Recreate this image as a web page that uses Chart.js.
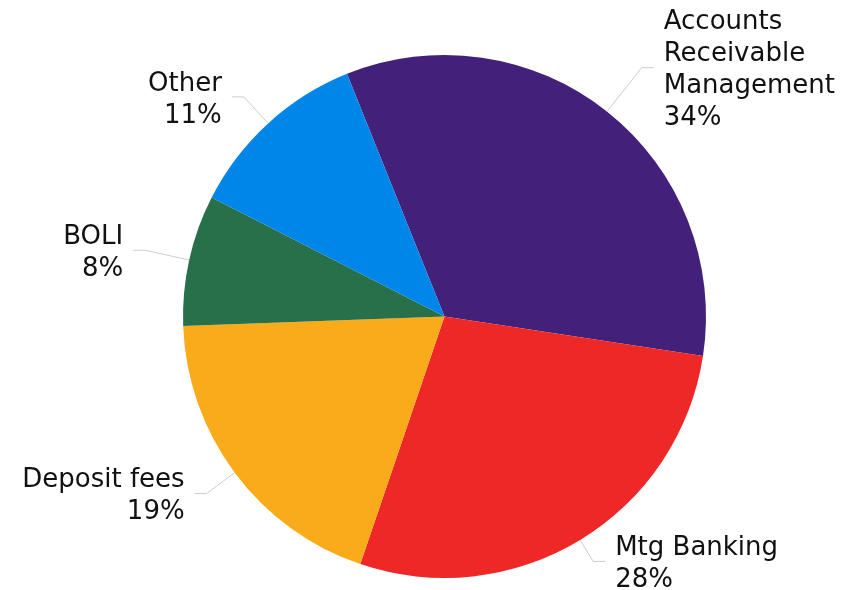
<!DOCTYPE html>
<html>
<head>
<meta charset="utf-8">
<script src="https://cdn.jsdelivr.net/npm/chart.js@4/dist/chart.umd.min.js"></script>
<style>
    html, body { margin: 0; padding: 0; background: #fff; }
    #wrap { width: 858px; height: 590px; position: relative; }
</style>
</head>
<body>
<div id="wrap"><canvas id="feePie"></canvas></div>
<script>
// Fee income mix (share of total, %)
const categories = [
    ["Accounts", "Receivable", "Management"],
    "Mtg Banking",
    "Deposit fees",
    "BOLI",
    "Other",
];
const shares = [33.5, 27.8, 19.2, 8.1, 11.4];
const sliceColors = ["#43207a", "#ee2826", "#f9ab1a", "#277049", "#0086e8"];

// outside labels with elbow leader lines
const leaderLabels = {
    id: "leaderLabels",
    afterDatasetsDraw(chart, args, opts) {
        const ctx = chart.ctx;
        const meta = chart.getDatasetMeta(0);
        const values = chart.data.datasets[0].data;

        ctx.save();
        ctx.font = opts.font;
        ctx.textBaseline = "middle";

        meta.data.forEach((arc, i) => {
            const mid = (arc.startAngle + arc.endAngle) / 2;
            const r = arc.outerRadius;
            const ext = opts.extend[i];
            const cos = Math.cos(mid);
            const sin = Math.sin(mid);
            const right = cos >= 0;

            const x0 = arc.x + cos * r;
            const y0 = arc.y + sin * r;
            const x1 = arc.x + cos * (r + ext);
            const y1 = arc.y + sin * (r + ext);
            const x2 = x1 + (right ? opts.tail : -opts.tail);

            ctx.strokeStyle = opts.lineColor;
            ctx.lineWidth = 1;
            ctx.beginPath();
            ctx.moveTo(x0, y0);
            ctx.lineTo(x1, y1);
            ctx.lineTo(x2, y1);
            ctx.stroke();

            let lines = chart.data.labels[i];
            lines = Array.isArray(lines) ? lines.slice() : [lines];
            lines.push(Math.round(values[i]) + "%");

            const tx = x2 + (right ? opts.gap : -opts.gap);
            const top = y1 + opts.nudge - (lines.length - 1) * opts.lineHeight / 2;
            ctx.fillStyle = opts.color;
            ctx.textAlign = right ? "left" : "right";
            lines.forEach((t, k) => {
                ctx.fillText(t, tx, top + k * opts.lineHeight);
            });
        });
        ctx.restore();
    },
};

new Chart(document.getElementById("feePie"), {
    type: "pie",
    data: {
        labels: categories,
        datasets: [{
            data: shares,
            backgroundColor: sliceColors,
            borderWidth: 0,
        }],
    },
    options: {
        responsive: true,
        maintainAspectRatio: false,
        animation: false,
        rotation: -21.9,
        layout: {
            padding: { top: 55, bottom: 12, left: 183, right: 152 },
        },
        plugins: {
            legend: { display: false },
            tooltip: { enabled: false },
            leaderLabels: {
                font: "26px 'DejaVu Sans', Verdana, sans-serif",
                color: "#111111",
                lineColor: "#cccccc",
                lineHeight: 32,
                nudge: 3,
                extend: [56, 25, 35, 45, 36],
                tail: 12,
                gap: 10,
            },
        },
    },
    plugins: [leaderLabels],
});
</script>
</body>
</html>
